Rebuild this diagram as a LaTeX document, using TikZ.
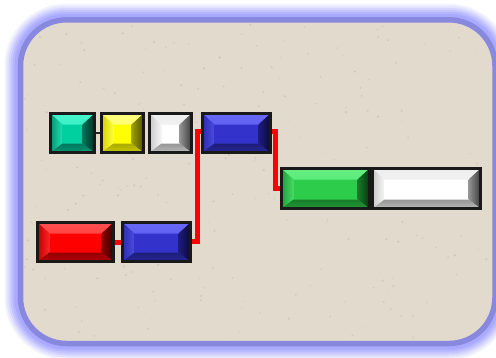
\documentclass[tikz,border=0pt]{standalone}
\usetikzlibrary{calc}
\pgfdeclarelayer{frame}
\pgfdeclarelayer{conn}
\pgfsetlayers{frame,conn,main}
% colours: M main, T top, L left, R right (dark), B bottom
\definecolor{tealM}{RGB}{0,208,160}\definecolor{tealT}{RGB}{70,245,205}\definecolor{tealL}{RGB}{0,150,115}\definecolor{tealR}{RGB}{0,45,35}\definecolor{tealB}{RGB}{0,120,92}
\definecolor{yelM}{RGB}{255,255,0}\definecolor{yelT}{RGB}{255,255,130}\definecolor{yelL}{RGB}{210,210,0}\definecolor{yelR}{RGB}{80,80,0}\definecolor{yelB}{RGB}{170,170,0}
\definecolor{whM}{RGB}{255,255,255}\definecolor{whT}{RGB}{238,238,238}\definecolor{whL}{RGB}{200,200,200}\definecolor{whR}{RGB}{60,60,60}\definecolor{whB}{RGB}{150,150,150}
\definecolor{bluM}{RGB}{51,51,204}\definecolor{bluT}{RGB}{105,105,248}\definecolor{bluL}{RGB}{45,45,180}\definecolor{bluR}{RGB}{10,10,55}\definecolor{bluB}{RGB}{30,30,120}
\definecolor{redM}{RGB}{255,0,0}\definecolor{redT}{RGB}{255,80,80}\definecolor{redL}{RGB}{190,0,0}\definecolor{redR}{RGB}{55,0,0}\definecolor{redB}{RGB}{145,0,0}
\definecolor{grnM}{RGB}{45,205,75}\definecolor{grnT}{RGB}{100,240,130}\definecolor{grnL}{RGB}{30,160,55}\definecolor{grnR}{RGB}{5,55,15}\definecolor{grnB}{RGB}{25,125,42}
\definecolor{paper}{RGB}{226,218,205}
\definecolor{rim}{RGB}{136,136,222}
\definecolor{glow}{RGB}{150,150,255}
\definecolor{wire}{RGB}{255,0,0}
\tikzset{
  bevbox/.style={draw=black!90, line width=3pt, inner sep=0pt, outer sep=0pt, fill=#1M,
    path picture={
      \coordinate (pA) at (path picture bounding box.north west);
      \coordinate (pB) at (path picture bounding box.south east);
      \coordinate (iA) at ($(pA)+(12pt,-11pt)$);
      \coordinate (iB) at ($(pB)+(-12pt,9pt)$);
      \begin{scope}
        \clip (pA) -- (pA-|pB) -- (iA-|iB) -- (iA) -- cycle;
        \shade[top color=#1T, bottom color=#1T!85!#1M] (pA) rectangle (iA-|pB);
      \end{scope}
      \begin{scope}
        \clip (pA) -- (iA) -- (iB-|iA) -- (pB-|pA) -- cycle;
        \shade[left color=#1L, right color=#1T!45!#1M] (pA) rectangle (iA|-pB);
      \end{scope}
      \begin{scope}
        \clip (pA-|pB) -- (pB) -- (iB) -- (iA-|iB) -- cycle;
        \shade[left color=#1R!55!#1M, right color=#1R] (iB|-pA) rectangle (pB);
      \end{scope}
      \begin{scope}
        \clip (pB) -- (pB-|pA) -- (iB-|iA) -- (iB) -- cycle;
        \shade[top color=#1B, bottom color=#1B!65!#1M] (iB-|pA) rectangle (pB);
      \end{scope}
    }},
  redwire/.style={draw=wire, line width=5pt, line join=miter},
  thinwire/.style={draw=black!85, line width=1.2pt},
}
\begin{document}
\begin{tikzpicture}[x=1pt,y=-1pt]
\useasboundingbox (0,0) rectangle (496,357);
\begin{pgfonlayer}{frame}
  \fill[white] (0,0) rectangle (496,357);
  \foreach \w/\o in {32/0.12,28/0.15,24/0.2,20/0.25,16/0.3,12/0.4}{
    \draw[glow, line width=\w pt, opacity=\o, rounded corners=46pt] (20.5,19.8) rectangle (495,343.5);
  }
  \draw[rim, fill=paper, line width=5.5pt, rounded corners=46pt] (20.5,19.8) rectangle (495,343.5);
  \pgfmathsetseed{11}
  \begin{scope}
    \clip[rounded corners=42pt] (24,23) rectangle (491,340);
    \foreach \i in {1,...,260}{
      \fill[black!45, opacity=0.22] ({24+rnd*467},{23+rnd*317}) circle ({0.4+rnd*0.9});
    }
  \end{scope}
\end{pgfonlayer}

\node[bevbox=teal, minimum width=44pt, minimum height=39pt] (teal) at (72.5,133) {};
\node[bevbox=yel,  minimum width=42pt, minimum height=39pt] (yel) at (122.5,133) {};
\node[bevbox=wh,   minimum width=42pt, minimum height=39pt] (wh1) at (170.5,133) {};
\node[bevbox=blu,  minimum width=68pt, minimum height=39pt] (bluT) at (236.5,133) {};
\node[bevbox=red,  minimum width=76pt, minimum height=39pt] (red) at (75.5,242) {};
\node[bevbox=blu,  minimum width=68pt, minimum height=39pt] (bluB) at (156.5,242) {};
\node[bevbox=grn,  minimum width=88pt, minimum height=40pt] (grn) at (325.5,188.5) {};
\node[bevbox=wh,   minimum width=108pt, minimum height=40pt] (wh2) at (426.5,188.5) {};

\begin{pgfonlayer}{conn}
  \draw[thinwire] (teal.east) -- (yel.west);
  \draw[redwire] (red.east) -- (bluB.west);
  \coordinate (c1) at (197,131);
  \coordinate (c2) at (275.5,188.5);
  \draw[redwire] ([yshift=1pt]bluB.east) -| (c1) -- ([yshift=2pt]bluT.west);
  \draw[redwire] ([yshift=2pt]bluT.east) -| (c2) -- (grn.west);
\end{pgfonlayer}
\end{tikzpicture}
\end{document}
